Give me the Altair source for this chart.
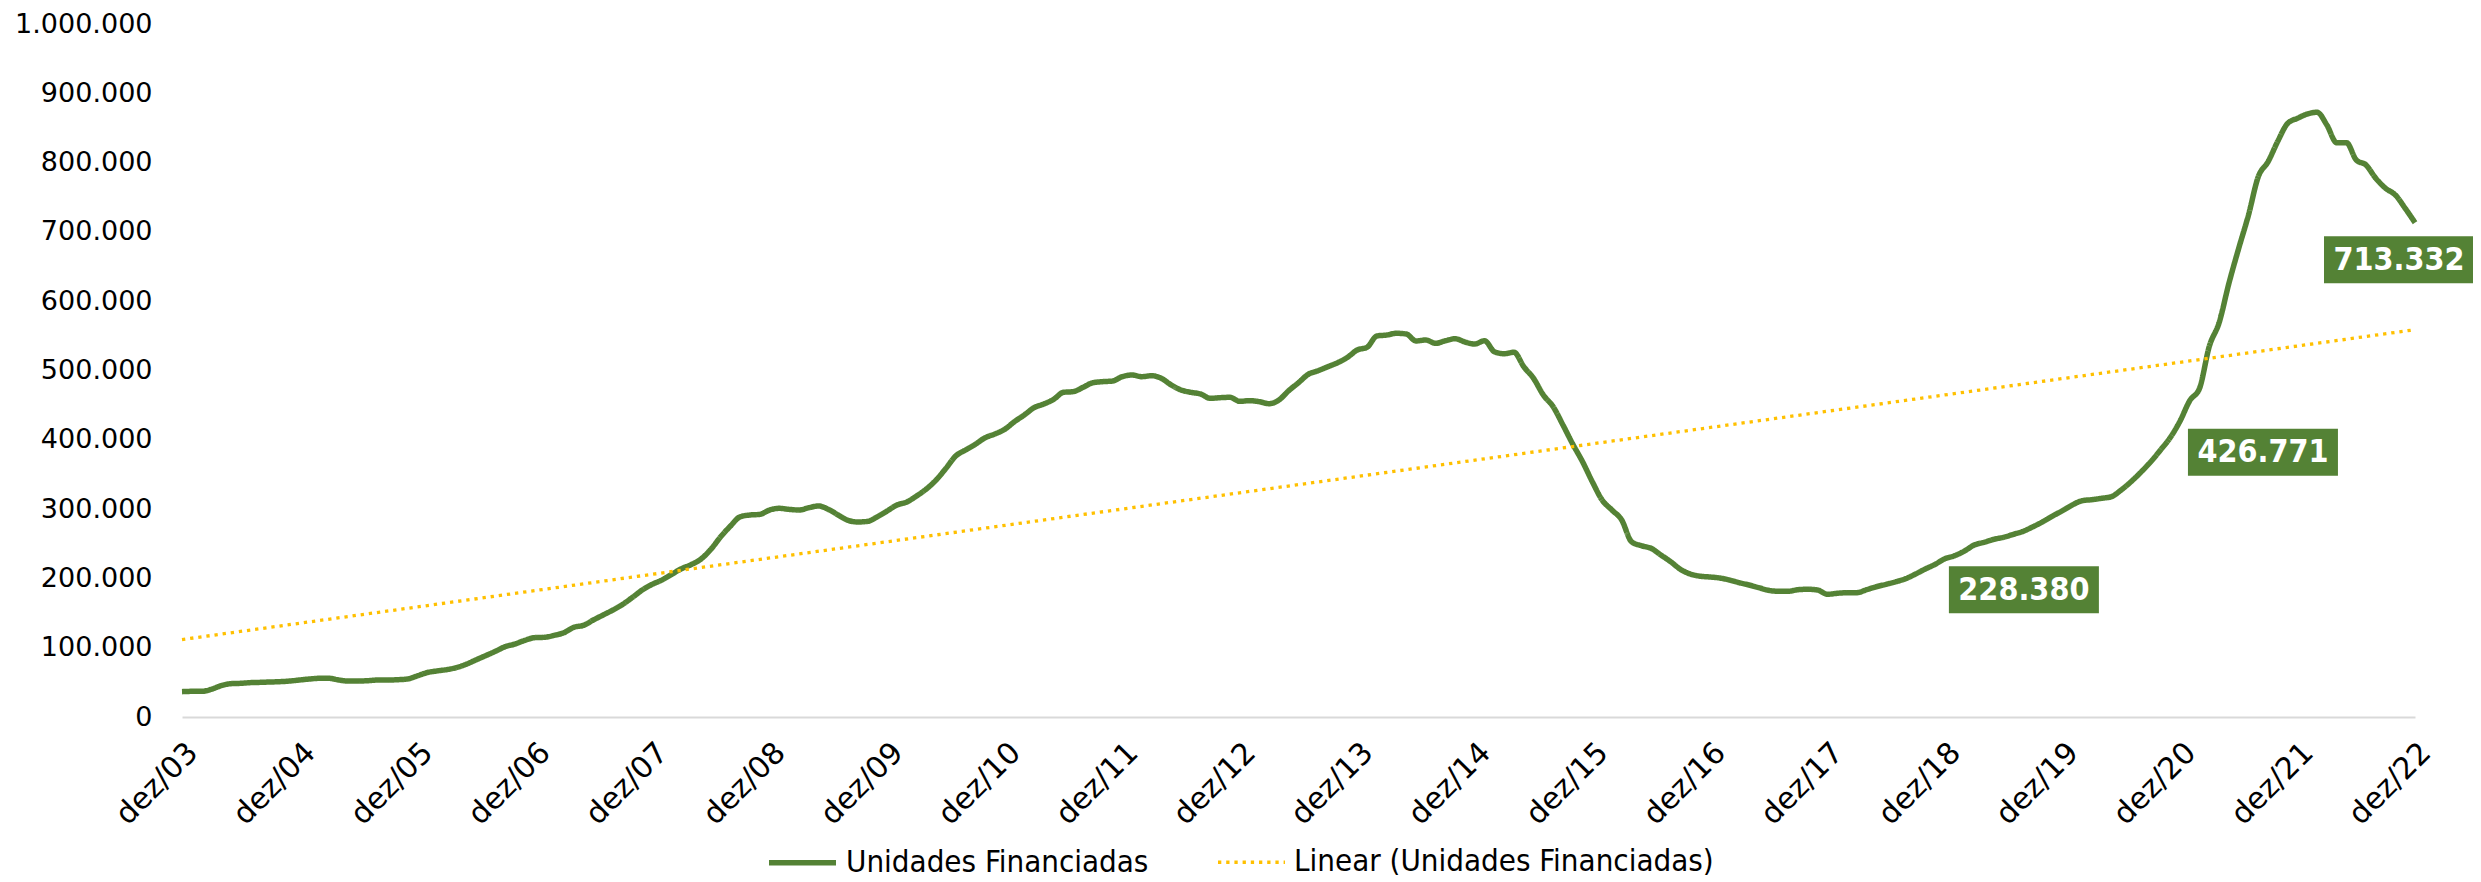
import json
import altair as alt
import pandas as pd

# ---------------- data ----------------
unidades = [
    36600, 37000, 37000, 40000, 45200, 48100, 48600, 49600, 50000, 50500, 51000, 51900,
    53400, 54800, 55800, 55800, 53400, 51900, 51900, 52400, 53400, 53400, 53800, 54800,
    59200, 64000, 66400, 68300, 71200, 76000, 82300, 88500, 94800, 101500, 105300, 110600,
    114500, 115000, 117800, 121700, 129400, 132300, 140000, 147200, 154400, 162600, 172700, 183300,
    191400, 197700, 205900, 214000, 220000, 228000, 242000, 260000, 275600, 289000, 291500, 292400,
    298700, 301100, 299600, 298700, 302000, 304500, 299600, 291500, 283800, 281400, 282300, 289000,
    297300, 305900, 310200, 318900, 329000, 342000, 358800, 376600, 385300, 393500, 403000, 408400,
    415100, 426200, 435800, 446400, 451700, 458400, 468500, 469500, 475700, 482400, 483900, 484800,
    491100, 493500, 491100, 492500, 488700, 479100, 471900, 468500, 466100, 459800, 460800, 461300,
    455500, 456500, 455000, 452100, 457400, 470900, 482400, 494500, 499700, 505500, 511300, 519000,
    529600, 533500, 549800, 551200, 553700, 552700, 542600, 544000, 539200, 543000, 545900, 541100,
    538200, 543000, 527100, 524200, 526300, 505500, 488700, 464600, 447800, 421400, 393900, 368400,
    339500, 313100, 298700, 284300, 253000, 247200, 243400, 233800, 224100, 213100, 206300, 203200,
    202000, 200600, 197700, 193800, 190500, 186600, 182800, 181400, 181400, 183700, 184300, 183300,
    177100, 178500, 179400, 179400, 183700, 188000, 191500, 195200, 199600, 206300, 213600, 220300,
    228380, 232800, 239500, 248200, 252100, 256400, 259300, 263600, 268000, 274600, 281800, 290000,
    297700, 305900, 312100, 313600, 315600, 317900, 327600, 339500, 353100, 368000, 385000, 403000,
    426771, 456500, 474300, 535000, 569000, 625800, 676300, 724400, 779700, 801300, 831200, 856700,
    863900, 870100, 872600, 854300, 828800, 828800, 803800, 796500, 777300, 762900, 753200, 734000,
    713332,
]
x_tick_labels = ["dez/03", "dez/04", "dez/05", "dez/06", "dez/07", "dez/08", "dez/09", "dez/10",
                 "dez/11", "dez/12", "dez/13", "dez/14", "dez/15", "dez/16", "dez/17", "dez/18",
                 "dez/19", "dez/20", "dez/21", "dez/22"]
y_tick_labels = ["0", "100.000", "200.000", "300.000", "400.000", "500.000", "600.000",
                 "700.000", "800.000", "900.000", "1.000.000"]
series = ["Unidades Financiadas", "Linear (Unidades Financiadas)"]
labelled_months = [180, 204, 228]

# ---------------- styles ----------------
GREEN = "#548235"
GOLD = "#FFC000"
AX_FONT = "DejaVu Sans"
N = len(unidades) - 1

df = pd.DataFrame({"m": list(range(len(unidades))), "v": unidades, "serie": series[0]})
ann = df[df["m"].isin(labelled_months)].reset_index(drop=True)

x_ticks = [12 * i for i in range(len(x_tick_labels))]
y_ticks = [100000 * i for i in range(len(y_tick_labels))]

x_axis = alt.Axis(values=x_ticks, labelExpr=f"{json.dumps(x_tick_labels)}[round(datum.value/12)]",
                  labelAngle=-45, labelFont=AX_FONT, labelFontSize=30, labelColor="#000000",
                  ticks=False, grid=False, domainColor="#D9D9D9", domainWidth=2,
                  labelPadding=20, title=None, labelFlush=False, labelOverlap=False)
y_axis = alt.Axis(values=y_ticks, labelExpr=f"{json.dumps(y_tick_labels)}[round(datum.value/100000)]",
                  labelFont=AX_FONT, labelFontSize=27, labelColor="#000000",
                  ticks=False, grid=False, domain=False, labelPadding=30, title=None)

X = alt.X("m:Q", scale=alt.Scale(domain=[0, N], nice=False, zero=False), axis=x_axis)
Y = alt.Y("v:Q", scale=alt.Scale(domain=[0, 1000000], nice=False), axis=y_axis)

leg = alt.Legend(orient="none", legendX=584, legendY=802, direction="horizontal", title=None,
                 symbolType="stroke", symbolSize=4489, labelFont="DejaVu Sans Condensed, DejaVu Sans",
                 labelFontSize=31, labelColor="#000000", labelOffset=7, columnPadding=62, padding=0,
                 labelLimit=0)
enc = dict(
    color=alt.Color("serie:N", scale=alt.Scale(domain=series, range=[GREEN, GOLD]), legend=leg),
    strokeDash=alt.StrokeDash("serie:N", scale=alt.Scale(domain=series, range=[[1, 0], [3.3, 4.9]]), legend=leg),
    strokeWidth=alt.StrokeWidth("serie:N", scale=alt.Scale(type="ordinal", domain=series, range=[5.5, 3.3]), legend=leg),
)

line = alt.Chart(df).mark_line(interpolate="monotone", strokeJoin="round").encode(x=X, y=Y, **enc)

trend = (alt.Chart(df)
         .transform_regression("m", "v", method="linear", extent=[0, N])
         .transform_calculate(serie=f"'{series[1]}'")
         .mark_line()
         .encode(x=X, y=Y, **enc))

offsets = [(79, 31), (83, 31), (-16, 37)]
ann_layers = []
for mth, (dx, dy) in zip(labelled_months, offsets):
    b = alt.Chart(ann).transform_filter(f"datum.m == {mth}").transform_calculate(
        rot="replace(format(datum.v, ','), ',', '.')")
    ann_layers.append(b.mark_rect(width=150, height=47, xOffset=dx, yOffset=dy, color=GREEN).encode(x=X, y=Y))
    ann_layers.append(b.mark_text(dx=dx, dy=dy, font="DejaVu Sans Condensed, DejaVu Sans", fontSize=32,
                                  fontWeight="bold", color="#FFFFFF", baseline="middle", align="center")
                      .encode(x=X, y=Y, text="rot:N"))

chart = (alt.layer(line, trend, *ann_layers)
         .properties(width=2233, height=693, autosize="none",
                     padding={"left": 174, "top": 16, "right": 58, "bottom": 163},
                     background="#FFFFFF")
         .configure_view(stroke=None))

chart.save("out.html", embed_options={"renderer": "svg", "actions": False})
